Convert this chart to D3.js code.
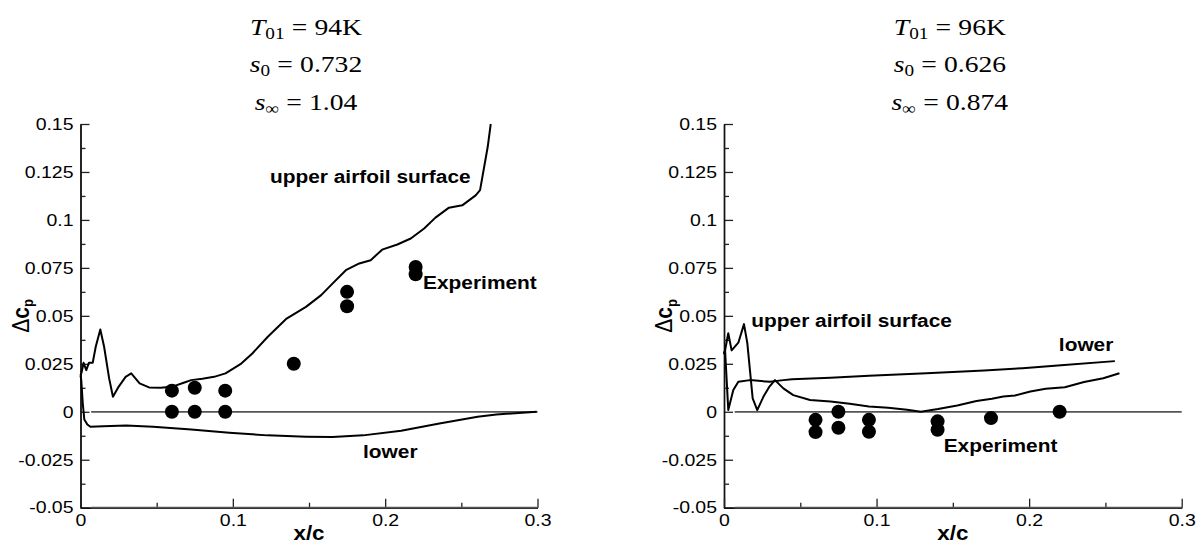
<!DOCTYPE html>
<html>
<head>
<meta charset="utf-8">
<script src="https://cdn.jsdelivr.net/npm/d3@7"></script>
<style>
  body { margin: 0; background: #fff; }
  text { font-family: "Liberation Sans", Arial, sans-serif; }
</style>
</head>
<body>
<svg id="chart" width="1203" height="546"></svg>
<script>
// ---- data ----
let xTicks = [0, 0.1, 0.2, 0.3]
let xTickLabels = ['0', '0.1', '0.2', '0.3']
let xMinor = [0.05, 0.15, 0.25]
let yTicks = [-0.05, -0.025, 0, 0.025, 0.05, 0.075, 0.1, 0.125, 0.15]
let yTickLabels = ['-0.05', '-0.025', '0', '0.025', '0.05', '0.075', '0.1', '0.125', '0.15']
let yMinor = [-0.0375, -0.0125, 0.0125, 0.0375, 0.0625, 0.0875, 0.1125, 0.1375]

// left case: T01 = 94K
let leftUpper = [
  [0, 0.019], [0.0008, 0.0208], [0.002, 0.0255], [0.0038, 0.0217], [0.0055, 0.0255], [0.008, 0.0255],
  [0.010, 0.0339], [0.013, 0.0429], [0.0155, 0.0339], [0.0188, 0.0174], [0.0213, 0.0078],
  [0.025, 0.013], [0.0296, 0.0182], [0.0333, 0.020], [0.0388, 0.0148], [0.045, 0.0127],
  [0.0526, 0.0125], [0.060, 0.013], [0.0677, 0.0151], [0.0727, 0.0165], [0.080, 0.0172],
  [0.0877, 0.0182], [0.0952, 0.020], [0.105, 0.0248], [0.1128, 0.0304], [0.1228, 0.039],
  [0.1353, 0.0486], [0.148, 0.0547], [0.158, 0.0608], [0.1654, 0.0668], [0.1742, 0.0738],
  [0.183, 0.0773], [0.1905, 0.079], [0.198, 0.0845], [0.208, 0.0872], [0.2168, 0.0903],
  [0.2256, 0.0955], [0.233, 0.1012], [0.2419, 0.1064], [0.2506, 0.1076], [0.2594, 0.1128],
  [0.2623, 0.1155], [0.2673, 0.138], [0.2693, 0.150]
]
let leftLower = [
  [0, 0.019], [0.0005, 0.0165], [0.0015, 0.0043], [0.0025, -0.004], [0.0045, -0.0066],
  [0.0065, -0.0078], [0.015, -0.0076], [0.030, -0.0071], [0.0476, -0.0078], [0.0727, -0.0092],
  [0.0977, -0.0109], [0.1228, -0.0123], [0.148, -0.013], [0.1654, -0.0132], [0.1855, -0.0123],
  [0.2105, -0.0099], [0.2356, -0.0061], [0.2607, -0.0026], [0.273, -0.0014], [0.2995, 0]
]
let leftExp = [
  [0.06, 0.011], [0.06, 0], [0.075, 0.0125], [0.075, 0], [0.095, 0.011], [0.095, 0],
  [0.14, 0.025], [0.175, 0.0625], [0.175, 0.055], [0.22, 0.0755], [0.22, 0.0717]
]
let leftTitle = [['T', '01', '94K'], ['s', '0', '0.732'], ['s', '∞', '1.04']]

// right case: T01 = 96K
let rightUpper = [
  [0, 0.030], [0.0007, 0.032], [0.0028, 0.0409], [0.005, 0.032], [0.0094, 0.036], [0.0131, 0.0457],
  [0.0153, 0.0357], [0.0188, 0.007], [0.0218, 0.0009], [0.0258, 0.0078], [0.0295, 0.0128],
  [0.0334, 0.0165], [0.0389, 0.0122], [0.0454, 0.0087], [0.0564, 0.0061], [0.0698, 0.0054],
  [0.0824, 0.0042], [0.095, 0.0028], [0.1076, 0.0021], [0.12, 0.001], [0.129, 0],
  [0.1403, 0.0014], [0.1529, 0.0033], [0.1655, 0.0056], [0.1756, 0.0068], [0.1831, 0.008],
  [0.1907, 0.0085], [0.2008, 0.0106], [0.2108, 0.012], [0.2234, 0.0128], [0.236, 0.0155],
  [0.2486, 0.0175], [0.2592, 0.0201]
]
let rightLower = [
  [0, 0.030], [0.0007, 0.032], [0.0028, 0.0009], [0.0061, 0.0113], [0.0094, 0.0156], [0.017, 0.0165],
  [0.0301, 0.0156], [0.0389, 0.0165], [0.0446, 0.017], [0.0698, 0.0177], [0.095, 0.0188],
  [0.1327, 0.0201], [0.1705, 0.0215], [0.1957, 0.0227], [0.2209, 0.0243], [0.2562, 0.0264]
]
let rightExp = [
  [0.06, -0.0042], [0.06, -0.0106], [0.075, 0], [0.075, -0.0083], [0.095, -0.0042], [0.095, -0.0104],
  [0.14, -0.005], [0.14, -0.0094], [0.175, -0.0033], [0.22, 0]
]
let rightTitle = [['T', '01', '96K'], ['s', '0', '0.626'], ['s', '∞', '0.874']]

let zeroLine = [[0.007, 0], [0.3, 0]]
let floorLine = [[0.007, -0.05], [0.3, -0.05]]

// ---- layout ----
let wide = 1.18 // the source figure is a little wider than tall, text too
let panels = [
  { x0: 80.5, x1: 537.5, upper: leftUpper, lower: leftLower, exp: leftExp, title: leftTitle,
    notes: [
      { text: 'upper airfoil surface', x: 0.1244, y: 0.1194, anchor: 'start' },
      { text: 'Experiment', x: 0.2249, y: 0.0638, anchor: 'start' },
      { text: 'lower', x: 0.1855, y: -0.024, anchor: 'start' }
    ] },
  { x0: 724, x1: 1181.7, upper: rightUpper, lower: rightLower, exp: rightExp, title: rightTitle,
    notes: [
      { text: 'upper airfoil surface', x: 0.0179, y: 0.0443, anchor: 'start' },
      { text: 'lower', x: 0.2552, y: 0.0318, anchor: 'end' },
      { text: 'Experiment', x: 0.144, y: -0.0209, anchor: 'start' }
    ] }
]
let yTop = 124
let yBottom = 507.7

let svg = d3.select('#chart')

// stretch text horizontally around its own anchor point
function widen (sel, k) {
  sel.each(function () {
    let t = d3.select(this)
    let x = +t.attr('x') || 0
    let y = +t.attr('y') || 0
    t.attr('transform', `translate(${x},${y}) scale(${k},1) translate(${-x},${-y})`)
  })
}

function drawPanel (p) {
  let x = d3.scaleLinear().domain([0, 0.3]).range([p.x0, p.x1])
  let y = d3.scaleLinear().domain([-0.05, 0.15]).range([yBottom, yTop])
  let g = svg.append('g')
  let line = d3.line().x(d => x(d[0])).y(d => y(d[1]))

  // axes
  let yAxis = d3.axisLeft(y).tickValues(yTicks)
    .tickFormat((d, i) => yTickLabels[i]).tickSizeInner(-9).tickSizeOuter(0).tickPadding(7)
  let yAxisMinor = d3.axisLeft(y).tickValues(yMinor).tickFormat('').tickSizeInner(-5).tickSizeOuter(0)
  let xAxis = d3.axisBottom(x).tickValues(xTicks)
    .tickFormat((d, i) => xTickLabels[i]).tickSizeInner(-9).tickSizeOuter(0).tickPadding(7)
  let xAxisMinor = d3.axisBottom(x).tickValues(xMinor).tickFormat('').tickSizeInner(-5).tickSizeOuter(0)

  ;[
    [yAxis, `translate(${p.x0},0)`],
    [yAxisMinor, `translate(${p.x0},0)`],
    [xAxis, `translate(0,${yBottom})`],
    [xAxisMinor, `translate(0,${yBottom})`]
  ].forEach(([ax, tr]) => {
    let a = g.append('g').attr('transform', tr).call(ax)
    a.selectAll('path.domain').attr('stroke', '#111').attr('stroke-width', 1.4)
    a.selectAll('.tick line').attr('stroke', '#222').attr('stroke-width', 1.3)
    let tx = a.selectAll('.tick text').attr('font-size', 16.5).attr('fill', '#000')
      .attr('font-family', '"Liberation Sans", Arial, sans-serif')
    widen(tx, wide)
  })

  // grey reference lines at 0 and along the bottom edge
  ;[zeroLine, floorLine].forEach(s => {
    g.append('path').attr('d', line(s))
      .attr('fill', 'none').attr('stroke', '#555').attr('stroke-width', 1.7)
  })

  // curves
  ;[p.upper, p.lower].forEach(s => {
    g.append('path').attr('d', line(s))
      .attr('fill', 'none').attr('stroke', '#000').attr('stroke-width', 2)
      .attr('stroke-linejoin', 'round')
  })

  // experiment points
  g.selectAll('circle.exp').data(p.exp).enter().append('circle')
    .attr('class', 'exp')
    .attr('cx', d => x(d[0])).attr('cy', d => y(d[1])).attr('r', 7)
    .attr('fill', '#000')

  // annotations
  p.notes.forEach(n => {
    let t = g.append('text').attr('x', x(n.x)).attr('y', y(n.y))
      .attr('text-anchor', n.anchor).attr('font-weight', 'bold').attr('font-size', 18)
      .text(n.text)
    widen(t, 1.16)
  })

  // axis titles
  let cx = (p.x0 + p.x1) / 2
  let xl = g.append('text').attr('x', cx).attr('y', 540).attr('text-anchor', 'middle')
    .attr('font-weight', 'bold').attr('font-size', 20).text('x/c')
  widen(xl, 1.12)

  let yl = g.append('text')
    .attr('transform', `translate(${p.x0 - 52},${(yTop + yBottom) / 2}) scale(${wide},1) rotate(-90)`)
    .attr('text-anchor', 'middle')
  yl.append('tspan').attr('font-size', 21).text('Δ')
  yl.append('tspan').attr('font-size', 21).attr('font-weight', 'bold').text('c')
  yl.append('tspan').attr('font-size', 13).attr('font-weight', 'bold').attr('dy', 4).text('p')

  // case title (three lines, TeX-like spacing around "=")
  p.title.forEach((t, i) => {
    let tt = g.append('text').attr('x', cx - 3).attr('y', 35 + i * 37.5)
      .attr('text-anchor', 'middle').attr('font-size', 23)
      .style('font-family', '"Liberation Serif", "Times New Roman", serif')
    tt.append('tspan').attr('font-style', 'italic').text(t[0])
    tt.append('tspan').attr('font-size', 16).attr('dy', 4).text(t[1])
    tt.append('tspan').attr('dy', -4).attr('dx', 6).text('=')
    tt.append('tspan').attr('dx', 6).text(t[2])
    widen(tt, 1.2)
  })
}

panels.forEach(drawPanel)
</script>
</body>
</html>
